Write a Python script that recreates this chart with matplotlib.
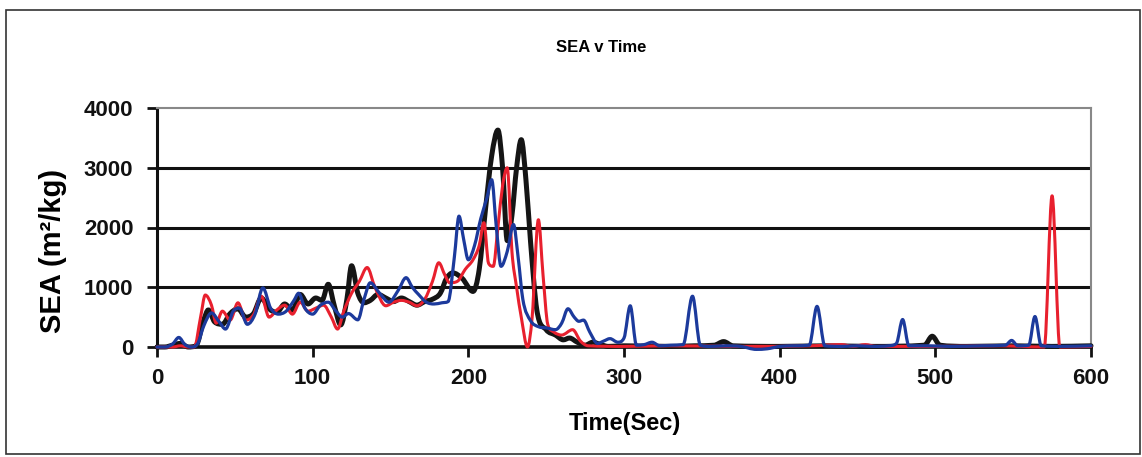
import matplotlib
matplotlib.use('Agg')
import matplotlib.pyplot as plt
from matplotlib.patches import Rectangle, PathPatch
from matplotlib.path import Path

# readings: time (s) and SEA (m2/kg) for each run
black_t = [0, 5, 10, 15, 20, 25, 30, 33, 37, 42, 47, 52, 57, 62, 67, 72, 77, 82, 87, 92,
           97, 102, 106, 110, 114, 118, 122, 125, 129, 133, 137, 142, 147, 152, 157, 162,
           167, 172, 177, 182, 186, 190, 196, 203, 207, 211, 215, 219, 222, 225, 228, 231,
           234, 237, 240, 244, 250, 256, 261, 265, 270, 275, 280, 285, 290, 300, 330, 345,
           358, 364, 370, 400, 430, 460, 493, 498, 503, 520, 550, 575, 600]
black_v = [0, 0, 30, 60, 0, 20, 450, 620, 420, 380, 560, 640, 500, 560, 820, 640, 580, 720, 620, 880,
           720, 820, 780, 1050, 680, 370, 800, 1360, 900, 740, 780, 880, 820, 760, 820, 760,
           700, 760, 800, 900, 1150, 1240, 1150, 930, 1300, 2300, 3200, 3630, 3000, 1780, 2200, 3000,
           3470, 2800, 1750, 620, 290, 200, 120, 150, 80, 30, 80, 40, 10, 20, 10, 20,
           30, 90, 20, 10, 20, 10, 30, 180, 30, 10, 20, 10, 20]

red_t = [0, 5, 10, 15, 20, 24, 28, 31, 35, 38, 42, 47, 52, 57, 62, 67, 72, 77, 82, 87,
         92, 97, 102, 107, 112, 116, 120, 125, 130, 135, 140, 147, 152, 157, 162, 167, 172,
         177, 181, 185, 188, 193, 198, 203, 207, 210, 213, 216, 219, 222, 225, 228, 231, 234,
         238, 241, 245, 248, 251, 255, 260, 267, 272, 277, 300, 330, 380, 420, 440, 447, 455,
         462, 500, 540, 570, 575, 580, 600]
red_v = [0, 0, 0, 20, 0, 0, 500, 870, 700, 400, 600, 450, 740, 450, 540, 850, 500, 620, 700, 550,
         750, 600, 650, 700, 500, 300, 600, 900, 1100, 1330, 1000, 690, 750, 780, 750, 690, 800,
         1100, 1410, 1200, 1075, 1100, 1300, 1460, 1700, 2080, 1400, 1350, 2000, 2700, 3000, 1600, 1000, 500,
         0, 500, 2130, 1200, 380, 250, 200, 290, 100, 20, 10, 20, 10, 20, 40, 10, 40,
         10, 10, 20, 0, 2530, 0, 10]

blue_t = [0, 5, 10, 14, 18, 22, 26, 30, 35, 40, 44, 49, 53, 58, 63, 68, 73, 78, 83, 88,
          91, 95, 100, 105, 110, 115, 119, 123, 129, 133, 137, 143, 149, 155, 160, 164, 168,
          173, 178, 183, 187, 191, 194, 197, 200, 204, 208, 212, 215, 218, 221, 225, 229, 232,
          235, 240, 245, 250, 256, 260, 264, 268, 271, 274, 278, 283, 287, 291, 296, 300, 304,
          308, 313, 318, 323, 330, 338, 344, 349, 355, 365, 375, 385, 392, 400, 410, 419, 424,
          429, 440, 450, 460, 470, 475, 479, 483, 495, 510, 530, 545, 549, 553, 560, 564, 568,
          580, 600]
blue_v = [0, 0, 50, 160, 40, 0, 50, 350, 570, 420, 300, 600, 650, 380, 550, 990, 650, 550, 600, 780,
          900, 650, 550, 700, 750, 600, 500, 560, 455, 800, 1075, 900, 750, 950, 1160, 1000, 880,
          750, 720, 740, 760, 1500, 2190, 1800, 1460, 1700, 2150, 2500, 2800, 2000, 1350, 1600, 2050, 1500,
          800, 440, 340, 320, 290, 400, 640, 500, 430, 450, 250, 60, 100, 140, 80, 150, 690,
          30, 40, 80, 20, 30, 40, 850, 30, 10, 20, 10, -40, -30, 10, 20, 30, 680,
          20, 10, 20, 10, 20, 60, 460, 20, 20, 10, 20, 30, 110, 20, 30, 510, 20,
          10, 20]

x_ticks = [0, 100, 200, 300, 400, 500, 600]
y_ticks = [0, 1000, 2000, 3000, 4000]


def smooth_path(xs, ys):
    # smoothed line through the points (monotone cubic, drawn as bezier segments)
    n = len(xs)
    h = [xs[i + 1] - xs[i] for i in range(n - 1)]
    d = [(ys[i + 1] - ys[i]) / h[i] for i in range(n - 1)]
    m = [d[0]] + [0.0] * (n - 2) + [d[-1]]
    for i in range(1, n - 1):
        if d[i - 1] * d[i] > 0:
            s = (d[i - 1] + d[i]) / 2
            lim = 3 * min(abs(d[i - 1]), abs(d[i]))
            m[i] = max(-lim, min(lim, s))
    verts = [(xs[0], ys[0])]
    codes = [Path.MOVETO]
    for i in range(n - 1):
        verts += [(xs[i] + h[i] / 3, ys[i] + m[i] * h[i] / 3),
                  (xs[i + 1] - h[i] / 3, ys[i + 1] - m[i + 1] * h[i] / 3),
                  (xs[i + 1], ys[i + 1])]
        codes += [Path.CURVE4] * 3
    return Path(verts, codes)


plt.rcParams['font.family'] = ['Liberation Sans', 'DejaVu Sans']
plt.rcParams['font.weight'] = 'bold'

W, H = 1142, 457
fig = plt.figure(figsize=(W / 100, H / 100), dpi=100)
ax = fig.add_axes([157 / W, 1 - 347 / H, (1091 - 157) / W, (347 - 108) / H])

# outer chart frame
fig.patches.append(Rectangle((6 / W, 3 / H), 1134 / W, 444 / H, transform=fig.transFigure,
                             fill=False, edgecolor='#333333', linewidth=1.2))

for yv in y_ticks[1:-1]:
    ax.axhline(yv, color='#111111', linewidth=2.2, zorder=1)

runs = [(black_t, black_v, '#151515', 3.6),
        (red_t, red_v, '#e8202e', 2.2),
        (blue_t, blue_v, '#1c3a9c', 2.3)]
for z, (ts, vs, col, lw) in enumerate(runs):
    ax.add_patch(PathPatch(smooth_path(ts, vs), fill=False, edgecolor=col, linewidth=lw,
                           joinstyle='round', capstyle='round', zorder=3 + z, clip_on=False))

ax.set_xlim(0, 600)
ax.set_ylim(0, 4000)
ax.set_xticks(x_ticks)
ax.set_yticks(y_ticks)
ax.tick_params(axis='both', labelsize=16, width=2, length=7, colors='#111111')
ax.tick_params(axis='x', pad=8)
ax.tick_params(axis='y', pad=10)

ax.spines['left'].set_linewidth(2.2)
ax.spines['left'].set_color('#111111')
ax.spines['bottom'].set_linewidth(2.6)
ax.spines['bottom'].set_color('#111111')
ax.spines['top'].set_linewidth(1.5)
ax.spines['top'].set_color('#888888')
ax.spines['right'].set_linewidth(1.5)
ax.spines['right'].set_color('#888888')

fig.text(601 / W, 1 - 48 / H, 'SEA v Time', ha='center', va='center', fontsize=12, fontweight='bold')
fig.text(625 / W, 1 - 430 / H, 'Time(Sec)', ha='center', va='baseline', fontsize=17, fontweight='bold')
fig.text(53 / W, 1 - 251 / H, 'SEA (m²/kg)', ha='center', va='center', rotation=90,
         fontsize=21, fontweight='bold')

fig.savefig('out.png', dpi=100)
